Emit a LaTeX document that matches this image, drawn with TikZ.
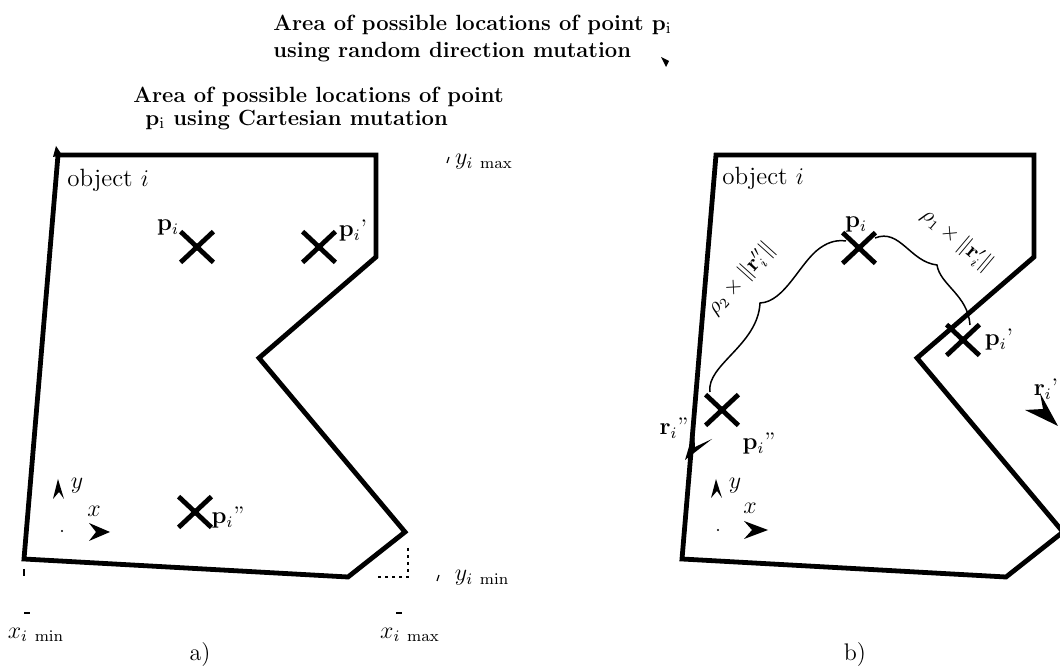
\documentclass[tikz,border=0pt]{standalone}
\usepackage{amsmath}
\usetikzlibrary{shapes.misc}
\begin{document}
\begin{tikzpicture}[x=0.5pt,y=-0.5pt,
 poly/.style={line width=2.4pt, line join=miter},
 xcross/.style={cross out, draw, line width=2.4pt, minimum width=14pt, minimum height=13pt, inner sep=0pt},
 lbl/.style={inner sep=0pt, font=\fontsize{12}{14}\selectfont},
 blbl/.style={inner sep=0pt, font=\fontsize{10.5}{12}\selectfont},
 ttl/.style={inner sep=0pt, anchor=west, font=\bfseries\fontsize{11}{13}\selectfont},
 brace/.style={line width=0.75pt},
 ahead/.style={fill=black},
 tick/.style={line width=0.6pt},
 proj/.style={line width=0.6pt, dash pattern=on 1.5pt off 2pt}]
\useasboundingbox (0,0) rectangle (1060,672);

% titles
\node[ttl] (t1) at (273,25) {Area of possible locations of point $\mathbf{p}_\mathrm{i}$};
\node[ttl] (t2) at (273,52) {using random direction mutation};
\fill[ahead] (661,57) -- (669,61) -- (666,67) -- cycle;
\node[ttl] (t3) at (133,97) {Area of possible locations of point};
\node[ttl] (t4) at (145,120) {$\mathbf{p}_\mathrm{i}$ using Cartesian mutation};

% ---------------- a) ----------------
\draw[poly] (58,155) -- (376,155) -- (376,257) -- (259,358) -- (405,532) -- (348,577) -- (24,559) -- cycle;
\fill[ahead] (53,157) -- (56,146) -- (62,155) -- cycle;
\node[lbl, anchor=west, font=\fontsize{12.5}{14}\selectfont] (oa) at (67,180) {object $i$};

\node[xcross] (pa) at (197,247) {};
\node[lbl] (pal) at (168,228) {$\mathbf{p}_i$};
\node[xcross] (pa1) at (319,247) {};
\node[lbl] (pa1l) at (353,231) {$\mathbf{p}_i$'};
\node[xcross] (pa2) at (195,512) {};
\node[lbl] (pa2l) at (228,518) {$\mathbf{p}_i$''};

% axes a
\fill[ahead] (58,479) -- (53,499) -- (59,492) -- (64,499) -- cycle;
\node[lbl] (ya) at (77,486) {$y$};
\node[lbl] (xa) at (94,511) {$x$};
\fill[ahead] (110,532) -- (89,523) -- (96,532) -- (89,541) -- cycle;
\fill (62,531) circle[radius=1.2];

% projections a
\draw[proj] (408,548) -- (408,577) -- (377,577);
\draw[tick] (24,569) -- (24,576);
\draw[tick] (24,613) -- (30,613);
\draw[tick] (396,613) -- (402,613);
\draw[tick] (449,157) -- (447,163);
\draw[tick] (439,575) -- (437,581);
\node[lbl] (ymax) at (484,162) {$y_{i\ \mathrm{max}}$};
\node[lbl] (ymin) at (482,578) {$y_{i\ \mathrm{min}}$};
\node[lbl] (xmin) at (36,635) {$x_{i\ \mathrm{min}}$};
\node[lbl] (xmax) at (410,635) {$x_{i\ \mathrm{max}}$};
\node[lbl] (capa) at (200,655) {a)};

% ---------------- b) ----------------
\draw[poly] (716,155) -- (1034,155) -- (1034,257) -- (917,358) -- (1063,532) -- (1006,577) -- (682,559) -- cycle;
\node[lbl, anchor=west, font=\fontsize{12.5}{14}\selectfont] (ob) at (722,178) {object $i$};

\node[xcross] (pb) at (859,248) {};
\node[lbl] (pbl) at (856,225) {$\mathbf{p}_i$};
\node[xcross] (pb1) at (963,340) {};
\node[lbl] (pb1l) at (999,340) {$\mathbf{p}_i$'};
\node[xcross] (pb2) at (722,410) {};
\node[lbl] (pb2l) at (759,444) {$\mathbf{p}_i$''};

% braces
\draw[brace] (710,392) .. controls (706,365) and (758,345) .. (760,303)
  .. controls (785,302) and (800,262) .. (820,248)
  .. controls (830,241) and (838,240) .. (846,241);
\draw[brace] (875,238) .. controls (900,228) and (910,262) .. (937,265)
  .. controls (940,285) and (968,295) .. (970,325);
\node[blbl, rotate=48] (l2) at (741,279) {$\rho_2\times\|\mathbf{r}_i''\|$};
\node[blbl, rotate=-40] (l1) at (957,240) {$\rho_1\times\|\mathbf{r}_i'\|$};

% direction arrows
\fill[ahead] (685,460) -- (712,439) -- (695,447) -- (694,430) -- cycle;
\node[lbl] (r2l) at (674,428) {$\mathbf{r}_i$''};
\fill[ahead] (1058,426) -- (1025,410) -- (1043,409) -- (1040,393) -- cycle;
\node[lbl] (r1l) at (1046,389) {$\mathbf{r}_i$'};

% axes b
\fill[ahead] (716,479) -- (711,498) -- (717,491) -- (722,498) -- cycle;
\node[lbl] (yb) at (735,486) {$y$};
\node[lbl] (xb) at (750,508) {$x$};
\fill[ahead] (768,530) -- (744,521) -- (752,530) -- (744,539) -- cycle;
\fill (718,530) circle[radius=1.2];
\node[lbl] (capb) at (855,655) {b)};
\end{tikzpicture}
\end{document}
